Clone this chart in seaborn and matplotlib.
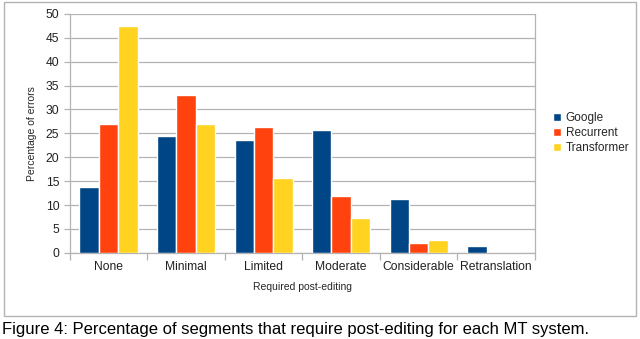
import pandas as pd
import matplotlib.pyplot as plt
import seaborn as sns
from matplotlib.patches import Rectangle

categorias = ['None', 'Minimal', 'Limited', 'Moderate', 'Considerable', 'Retranslation']
sistemas = ['Google', 'Recurrent', 'Transformer']
google = [13.8, 24.5, 23.6, 25.7, 11.2, 1.4]
recurrent = [27.0, 33.0, 26.4, 11.9, 2.0, 0.0]
transformer = [47.4, 27.0, 15.7, 7.2, 2.8, 0.0]
colores = ['#004586', '#ff420e', '#ffd320']

df = pd.DataFrame({
    'Required post-editing': categorias * 3,
    'valor': google + recurrent + transformer,
    'sistema': [s for s in sistemas for _ in categorias],
})

sns.set_theme(style="white")
plt.rcParams['font.family'] = ['Liberation Sans', 'DejaVu Sans']

fig = plt.figure(figsize=(6.4, 3.39), dpi=100)
ax = fig.add_axes([0.109, 0.254, 0.727, 0.705])

sns.barplot(data=df, x='Required post-editing', y='valor', hue='sistema',
            palette=colores, width=0.75, saturation=1, ax=ax, zorder=3)

ax.set_ylim(0, 50)
ax.set_xlim(-0.5, 5.5)
ax.set_yticks(range(0, 51, 5))
ax.grid(axis='y', color='#b3b3b3', linewidth=0.9, zorder=0)
ax.set_axisbelow(True)
for lado in ['left', 'right', 'bottom']:
    ax.spines[lado].set_color('#b3b3b3')
    ax.spines[lado].set_linewidth(0.9)
ax.spines['top'].set_visible(False)

ax.set_xticks([i - 0.5 for i in range(7)], minor=True)
ax.tick_params(axis='x', which='major', length=0, labelsize=8.7, pad=6)
ax.tick_params(axis='x', which='minor', length=5, color='#b3b3b3', width=0.9, bottom=True)
ax.tick_params(axis='y', length=4, color='#b3b3b3', width=0.9, left=True, labelsize=8.7)
for t in ax.get_yticklabels() + ax.get_xticklabels():
    t.set_color('#222222')

ax.set_xlabel('Required post-editing', fontsize=7.5, labelpad=6)
ax.set_ylabel('Percentage of errors', fontsize=7.5, labelpad=6)

leg = ax.legend(loc='center left', bbox_to_anchor=(1.015, 0.5), frameon=False,
                fontsize=8.5, handlelength=0.7, handleheight=0.7, handletextpad=0.4,
                labelspacing=0.25, title=None)

# marco exterior del gráfico
fig.patches.append(Rectangle((0.006, 0.068), 0.988, 0.925, transform=fig.transFigure,
                             fill=False, edgecolor='#b3b3b3', linewidth=1.0))

fig.text(0.003, 0.028, 'Figure 4: Percentage of segments that require post-editing for each MT system.',
         fontsize=12, va='center', ha='left', color='black')

fig.savefig('out.png', dpi=100)
